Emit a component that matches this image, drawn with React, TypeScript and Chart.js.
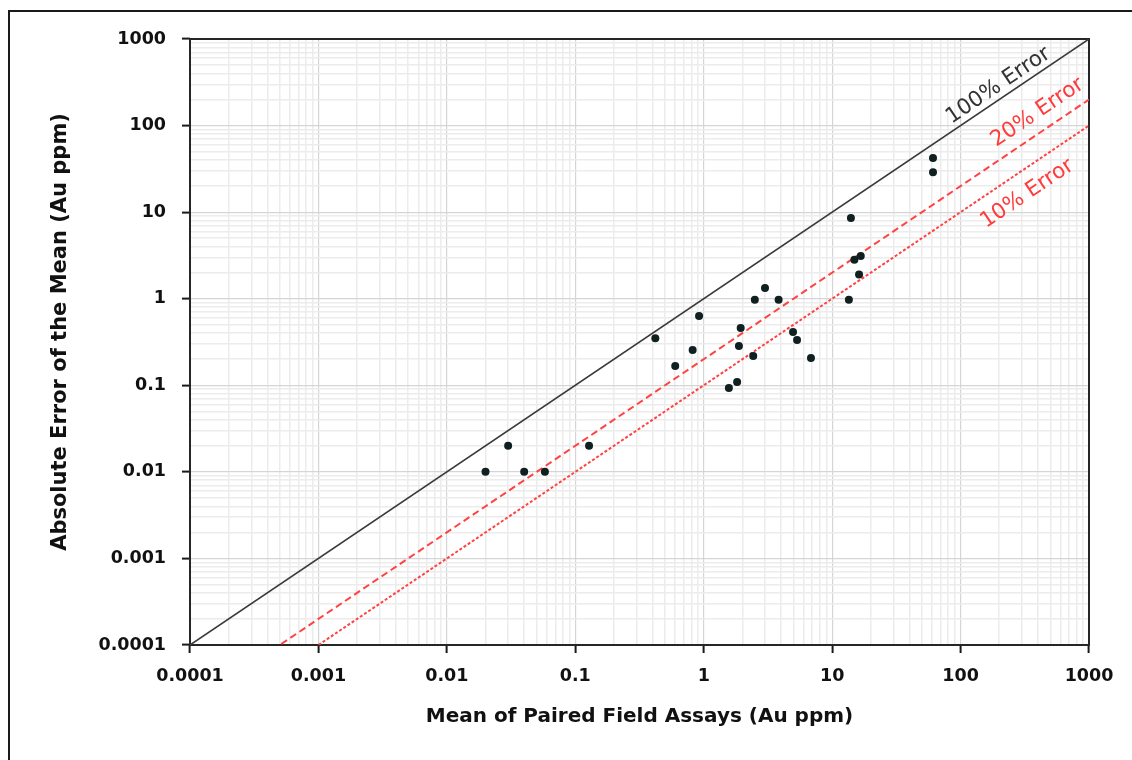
import React, { useEffect, useRef } from 'react';
import { Chart, registerables } from 'chart.js';

Chart.register(...registerables);

// ---- data ----
const tickLabels = ['0.0001', '0.001', '0.01', '0.1', '1', '10', '100', '1000'];

const meanFieldAssay = [
  0.02, 0.03, 0.04, 0.058, 0.128, 0.42, 0.6, 0.82, 0.92, 1.57, 1.82, 1.88, 1.94, 2.43,
  2.5, 3.0, 3.83, 4.96, 5.33, 6.84, 13.5, 14.0, 14.9, 16.7, 16.2, 61, 61,
];
const absoluteError = [
  0.01, 0.02, 0.01, 0.01, 0.02, 0.35, 0.167, 0.256, 0.63, 0.093, 0.109, 0.285, 0.46, 0.218,
  0.97, 1.33, 0.97, 0.413, 0.334, 0.207, 0.97, 8.53, 2.82, 3.11, 1.91, 42.3, 28.9,
];

const errorRatios = [1, 0.2, 0.1];
const errorNames = ['100% Error', '20% Error', '10% Error'];
const errorLineX = [0.0001, 1000];

const xTitle = 'Mean of Paired Field Assays (Au ppm)';
const yTitle = 'Absolute Error of the Mean (Au ppm)';

// ---- styles ----
const FONT = "'DejaVu Sans', sans-serif";
const lineColors = ['#3a3a3a', '#ff4343', '#ff4343'];
const lineDashes: number[][] = [[], [7, 4], [3, 2]];
const lineWidths = [1.6, 2, 2];
const labelColors = ['#333333', '#ff3b3b', '#ff3b3b'];
const labelAnchorX = [222, 476, 265];
const labelOffset = [12, 18, -22];

const decades = tickLabels.map(Number);
const allTicks: number[] = [];
decades.forEach((d, i) => {
  allTicks.push(d);
  if (i < decades.length - 1) for (let m = 2; m <= 9; m++) allTicks.push(m * d);
});
const isMajor = (v: number) => {
  const l = Math.log10(v);
  return Math.abs(l - Math.round(l)) < 1e-6;
};
const labelFor = (v: number) => {
  const idx = decades.findIndex((d) => Math.abs(d - v) / d < 1e-6);
  return idx >= 0 ? tickLabels[idx] : '';
};

const axis = (isY: boolean) => ({
  type: 'logarithmic',
  min: decades[0],
  max: decades[decades.length - 1],
  afterBuildTicks: (scale: any) => {
    scale.ticks = allTicks.map((v) => ({ value: v, major: false }));
  },
  afterFit: (scale: any) => {
    if (isY) scale.width = 190;
    else scale.height = 115;
  },
  border: { display: false },
  grid: {
    color: (c: any) => (c.tick && isMajor(c.tick.value) ? '#d5d5d5' : '#ececec'),
    lineWidth: (c: any) => (c.tick && isMajor(c.tick.value) ? 1.2 : 1.5),
    tickColor: (c: any) => (c.tick && isMajor(c.tick.value) ? '#1a1a1a' : 'rgba(0,0,0,0)'),
    tickWidth: 2,
    tickLength: 8,
    drawTicks: true,
  },
  ticks: {
    autoSkip: false,
    maxRotation: 0,
    minRotation: 0,
    padding: isY ? 16 : 13,
    color: '#111111',
    font: { family: FONT, size: 17.5, weight: 'bold' },
    callback: (v: any) => labelFor(Number(v)),
  },
});

const decorPlugin = {
  id: 'decor',
  beforeDatasetsDraw(chart: any) {
    const { ctx, chartArea: a } = chart;
    ctx.save();
    ctx.strokeStyle = '#262626';
    ctx.lineWidth = 2;
    ctx.strokeRect(a.left, a.top, a.right - a.left, a.bottom - a.top);
    ctx.restore();
  },
  afterDraw(chart: any) {
    const { ctx, chartArea: a, scales } = chart;
    const xs = scales.x;
    const ys = scales.y;
    ctx.save();
    // line labels
    errorRatios.forEach((k, i) => {
      const ax = labelAnchorX[i];
      const p1x = xs.getPixelForValue(ax);
      const p1y = ys.getPixelForValue(k * ax);
      const p2x = xs.getPixelForValue(ax * 10);
      const p2y = ys.getPixelForValue(k * ax * 10);
      const len = Math.hypot(p2x - p1x, p2y - p1y);
      const dx = (p2x - p1x) / len;
      const dy = (p2y - p1y) / len;
      const nx = dy;
      const ny = -dx;
      const cx = p1x + nx * labelOffset[i];
      const cy = p1y + ny * labelOffset[i];
      ctx.save();
      ctx.translate(cx, cy);
      ctx.rotate(Math.atan2(dy, dx));
      ctx.font = `21.5px ${FONT}`;
      ctx.fillStyle = labelColors[i];
      ctx.textAlign = 'center';
      ctx.textBaseline = 'middle';
      ctx.fillText(errorNames[i], 0, 0);
      ctx.restore();
    });
    // axis titles
    ctx.fillStyle = '#111111';
    ctx.textAlign = 'center';
    ctx.textBaseline = 'middle';
    ctx.font = `bold 20px ${FONT}`;
    ctx.fillText(xTitle, (a.left + a.right) / 2, 717);
    ctx.save();
    ctx.translate(61, 332);
    ctx.rotate(-Math.PI / 2);
    ctx.font = `bold 21px ${FONT}`;
    ctx.fillText(yTitle, 0, 0);
    ctx.restore();
    ctx.restore();
  },
};

export default function App() {
  const ref = useRef<HTMLCanvasElement | null>(null);

  useEffect(() => {
    if (!ref.current) return;
    const points = meanFieldAssay.map((x, i) => ({ x, y: absoluteError[i] }));
    const lineSets = errorRatios.map((k, i) => ({
      type: 'line',
      label: errorNames[i],
      data: errorLineX.map((x) => ({ x, y: k * x })),
      borderColor: lineColors[i],
      borderWidth: lineWidths[i],
      borderDash: lineDashes[i],
      pointRadius: 0,
      fill: false,
      tension: 0,
    }));
    const chart = new Chart(ref.current, {
      type: 'scatter',
      data: {
        datasets: [
          {
            label: 'Field duplicates',
            data: points,
            pointRadius: 4,
            pointHoverRadius: 4,
            backgroundColor: '#102020',
            borderWidth: 0,
          },
          ...lineSets,
        ] as any,
      },
      options: {
        responsive: false,
        animation: false,
        layout: { padding: { left: 0, top: 39, right: 43, bottom: 0 } },
        plugins: { legend: { display: false }, tooltip: { enabled: false } },
        scales: { x: axis(false) as any, y: axis(true) as any },
      },
      plugins: [decorPlugin],
    });
    return () => chart.destroy();
  }, []);

  return (
    <div style={{ position: 'fixed', left: 0, top: 0, width: 1132, height: 760, overflow: 'hidden', background: '#fff' }}>
      <div
        style={{
          position: 'absolute',
          left: 8,
          top: 10,
          width: 2000,
          height: 2000,
          borderLeft: '2px solid #1a1a1a',
          borderTop: '2px solid #1a1a1a',
        }}
      />
      <canvas ref={ref} width={1132} height={760} style={{ position: 'absolute', left: 0, top: 0, display: 'block' }} />
    </div>
  );
}
